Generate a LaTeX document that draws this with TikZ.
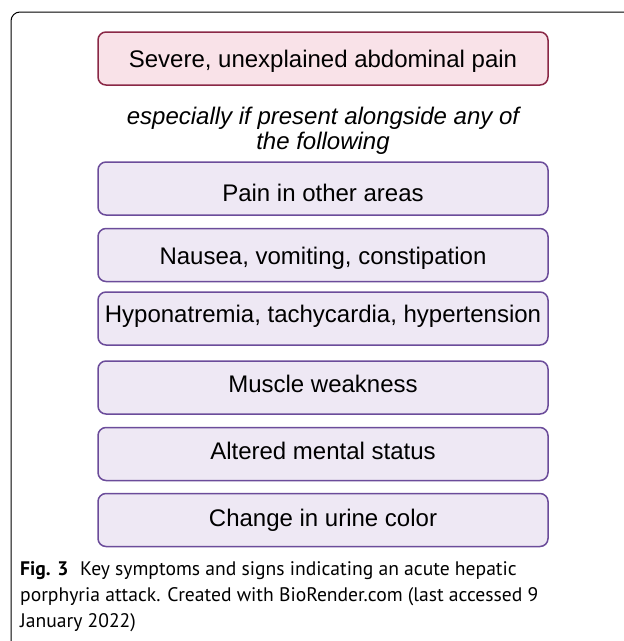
\documentclass[tikz,border=0pt]{standalone}
\usepackage{fontspec}
\setmainfont{Liberation Sans}
\newfontfamily\capfont{PT Sans}
\definecolor{pinkfill}{HTML}{F9E2E8}
\definecolor{pinkline}{HTML}{8A2846}
\definecolor{purpfill}{HTML}{EEE8F4}
\definecolor{purpline}{HTML}{6B4C9A}
\newcommand\mylower[2]{\raisebox{-#1pt}{#2}}
\tikzset{
  symbox/.style={draw=purpline, fill=purpfill, line width=1.5pt, rounded corners=8pt,
    minimum width=450pt, minimum height=53pt, inner sep=0pt,
    text height=17.2pt, text depth=0pt,
    font=\fontsize{24}{28}\selectfont, text=black},
  mainbox/.style={symbox, draw=pinkline, fill=pinkfill},
  esptext/.style={anchor=base, inner sep=0pt, font=\itshape\fontsize{24}{28}\selectfont},
  captext/.style={anchor=base west, inner sep=0pt, font=\capfont\fontsize{19.6}{24}\selectfont}
}
\begin{document}
\begin{tikzpicture}[x=1pt,y=-1pt]
\useasboundingbox (0,0) rectangle (624,641);
\draw[line width=1pt, rounded corners=9pt] (11,660) -- (11,12) -- (640,12);
\node[mainbox] (main) at (323,58.5) {\mylower{0}{Severe, unexplained abdominal pain}};
\node[esptext] (esp1) at (323,124) {especially if present alongside any of};
\node[esptext] (esp2) at (323,149) {the following};
\node[symbox] (s1) at (323,188.5) {\mylower{4}{Pain in other areas}};
\node[symbox] (s2) at (323,255) {\mylower{1}{Nausea, vomiting, constipation}};
\node[symbox] (s3) at (323,318.5) {\mylower{-5}{Hyponatremia, tachycardia, hypertension}};
\node[symbox] (s4) at (323,387.5) {\mylower{-4}{Muscle weakness}};
\node[symbox] (s5) at (323,454) {\mylower{-3}{Altered mental status}};
\node[symbox] (s6) at (323,520) {\mylower{-2}{Change in urine color}};
\node[captext] (c1) at (20,575) {\textbf{Fig. 3}\hspace{0.6em}Key symptoms and signs indicating an acute hepatic};
\node[captext] (c2) at (20,601) {porphyria attack. Created with BioRender.com (last accessed 9};
\node[captext] (c3) at (20,627) {January 2022)};
\end{tikzpicture}
\end{document}
